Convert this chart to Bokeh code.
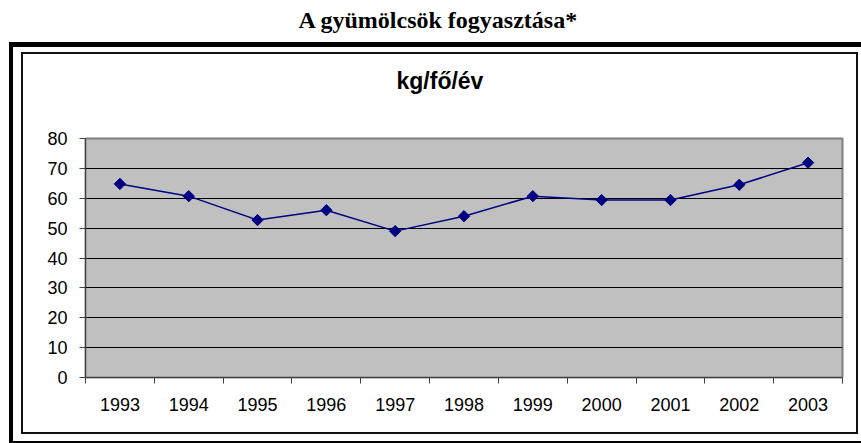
import numpy as np
from bokeh.plotting import figure
from bokeh.models import FixedTicker, Title, Range1d, InlineStyleSheet
from bokeh.embed import file_html
from bokeh.resources import INLINE

# ---- data ----
years = ["1993", "1994", "1995", "1996", "1997", "1998", "1999",
         "2000", "2001", "2002", "2003"]
values = [64.8, 60.7, 52.7, 56.0, 49.0, 54.0, 60.7, 59.4, 59.4, 64.5, 71.9]
y_ticks = [0, 10, 20, 30, 40, 50, 60, 70, 80]
main_title = "A gyümölcsök fogyasztása*"
sub_title = "kg/fő/év"

n = len(years)
xc = list(np.arange(n) + 0.5)

W, H = 861, 443
FL, FR, FT, FB = 85, 842, 138, 377
p = figure(width=W, height=H, output_backend="svg", toolbar_location=None,
           title=None, x_range=Range1d(0, n), y_range=Range1d(0, 80),
           min_border_left=FL, min_border_right=W - FR,
           min_border_top=FT, min_border_bottom=H - FB,
           background_fill_color="#C0C0C0", border_fill_color="white",
           outline_line_color="#808080", outline_line_width=2)

p.line(xc, values, line_color="#000080", line_width=1.5)
p.scatter(xc, values, marker="square", angle=np.pi / 4, size=8,
          fill_color="#000080", line_color="#000080")

# axes
font = "Liberation Sans"
xa = p.xaxis[0]
xa.ticker = FixedTicker(ticks=xc, minor_ticks=list(range(n + 1)))
xa.major_label_overrides = {float(x): y for x, y in zip(xc, years)}
xa.major_tick_line_color = None
xa.major_tick_out = 0
xa.major_tick_in = 0
xa.minor_tick_out = 6
xa.minor_tick_in = 0
xa.minor_tick_line_color = "#404040"
xa.axis_line_color = "#404040"
xa.major_label_text_font = font
xa.major_label_text_font_size = "18px"
xa.major_label_text_color = "black"
xa.major_label_standoff = 14

ya = p.yaxis[0]
ya.ticker = FixedTicker(ticks=y_ticks)
ya.major_tick_out = 6
ya.major_tick_in = 0
ya.minor_tick_line_color = None
ya.axis_line_color = "#404040"
ya.major_tick_line_color = "#404040"
ya.major_label_text_font = font
ya.major_label_text_font_size = "18px"
ya.major_label_text_color = "black"
ya.major_label_standoff = 12

p.xgrid.grid_line_color = None
p.ygrid.ticker = FixedTicker(ticks=y_ticks)
p.ygrid.grid_line_color = "black"
p.ygrid.grid_line_width = 1

# titles as panels above the frame
p.add_layout(Title(text=sub_title, align="left", text_font=font,
                   text_font_style="bold", text_font_size="23px",
                   text_color="black", standoff=90, offset=311), "above")
p.add_layout(Title(text=main_title, align="left", text_font="Liberation Serif",
                   text_font_style="bold", text_font_size="24px",
                   text_color="black", standoff=-24, offset=213), "above")

# chart-area frames (decoration): outer heavy frame and inner thin frame
css = """
:host { position: relative; }
:host::before {
  content: ""; position: absolute; box-sizing: border-box;
  left: 9px; top: 42px; width: 852px; height: 401px;
  border-left: 4px solid #000; border-top: 5px solid #000;
  border-bottom: 2px solid #000; pointer-events: none; z-index: 5;
}
:host::after {
  content: ""; position: absolute; box-sizing: border-box;
  left: 21px; top: 52px; width: 837px; height: 382px;
  border: 2px solid #111; pointer-events: none; z-index: 5;
}
"""
p.stylesheets = [InlineStyleSheet(css=css)]

open("out.html", "w").write(file_html(p, INLINE))
